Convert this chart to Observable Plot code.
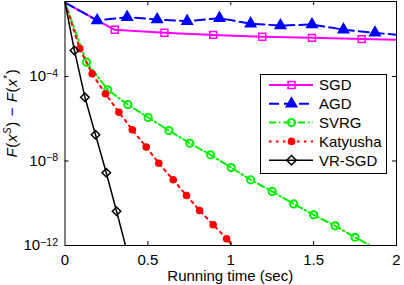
<!DOCTYPE html>
<html><head><meta charset="utf-8">
<script src="https://cdn.jsdelivr.net/npm/d3@7"></script>
<script src="https://cdn.jsdelivr.net/npm/@observablehq/plot@0.6"></script>
<style>body{margin:0;background:#fff;overflow:hidden}</style>
</head><body><div id="chart"></div>
<script>
// Running time (sec) and log10 of F(x^s) - F(x^*); first and last points are line-only
const sgdT = [0, 0.30, 0.60, 0.894, 1.19, 1.49, 1.79, 2.0];
const sgdE = [-0.5, -1.79, -1.93, -2.03, -2.12, -2.17, -2.23, -2.26];
const agdT = [0, 0.194, 0.375, 0.556, 0.737, 0.932, 1.12, 1.30, 1.49, 1.68, 1.87, 2.0];
const agdE = [-0.5, -1.35, -1.19, -1.30, -1.38, -1.24, -1.50, -1.59, -1.54, -1.78, -1.93, -2.03];
const svrgT = [0, 0.13, 0.258, 0.379, 0.502, 0.627, 0.753, 0.878, 1.003, 1.12, 1.25, 1.38, 1.50, 1.63, 1.75, 1.84];
const svrgE = [-0.5, -3.32, -4.63, -5.33, -5.94, -6.56, -7.16, -7.71, -8.31, -8.89, -9.44, -10.03, -10.55, -11.07, -11.61, -12.0];
const katT = [0, 0.089, 0.164, 0.244, 0.325, 0.406, 0.49, 0.566, 0.653, 0.733, 0.812, 0.894, 0.975, 1.01];
const katE = [-0.5, -2.68, -3.87, -4.82, -5.69, -6.52, -7.34, -8.11, -8.89, -9.63, -10.34, -11.02, -11.68, -12.0];
const vrT = [0, 0.057, 0.12, 0.184, 0.249, 0.311, 0.365];
const vrE = [-0.5, -2.77, -4.98, -6.76, -8.56, -10.38, -12.0];

const names = ["SGD", "AGD", "SVRG", "Katyusha", "VR-SGD"];
const xTicks = [0, 0.5, 1, 1.5, 2];
const yTickExp = [-4, -8, -12];

const rows = (T, E) => T.map((t, i) => ({t, v: Math.pow(10, E[i]), mk: i > 0 && i < T.length - 1}));
const sgd = rows(sgdT, sgdE), agd = rows(agdT, agdE), svrg = rows(svrgT, svrgE), kat = rows(katT, katE), vr = rows(vrT, vrE);

const styles = [
  {data: sgd, stroke: "#ff00ff", w: 2, dash: null, symbol: "square", r: 3.9, fill: "none", sw: 1.5},
  {data: agd, stroke: "#0000ff", w: 2, dash: "10,5", symbol: "triangle", r: 3.9, fill: "#0000ff", sw: 1.5},
  {data: svrg, stroke: "#00f000", w: 2, dash: "7,3,1.5,3", symbol: "circle", r: 3.6, fill: "none", sw: 2},
  {data: kat, stroke: "#ff0000", w: 2, dash: "2.5,4.5", symbol: "circle", r: 3.8, fill: "#ff0000", sw: 0},
  {data: vr, stroke: "#000000", w: 1.5, dash: null, symbol: "diamond2", r: 3.8, fill: "none", sw: 1.5}
];

const W = 404, H = 285, mL = 64.5, mR = 8, mT = 1, mB = 40;
const innerH = H - mT - mB, innerW = W - mL - mR;

const marks = [];
for (const s of styles) {
  marks.push(Plot.line(s.data, {x: "t", y: "v", stroke: s.stroke, strokeWidth: s.w, strokeDasharray: s.dash, clip: true}));
  marks.push(Plot.dot(s.data.filter(d => d.mk), {x: "t", y: "v", symbol: s.symbol, r: s.r, stroke: s.sw ? s.stroke : "none", strokeWidth: s.sw, fill: s.fill, clip: true}));
}
const inner = [0.5, 1, 1.5];
const innerY = [1e-4, 1e-8];
marks.push(
  Plot.tickX(inner, {x: d => d, insetTop: innerH - 4, stroke: "#000"}),
  Plot.tickX(inner, {x: d => d, insetBottom: innerH - 4, stroke: "#000"}),
  Plot.tickY(innerY, {y: d => d, insetRight: innerW - 4, stroke: "#000"}),
  Plot.tickY(innerY, {y: d => d, insetLeft: innerW - 4, stroke: "#000"}),
  Plot.frame({stroke: "#000", strokeWidth: 1}),
  Plot.axisX({ticks: xTicks, tickSize: 0, tickPadding: 9, tickFormat: d => String(d), fontSize: 15, label: null})
);

const plot = Plot.plot({
  width: W, height: H, marginLeft: mL, marginRight: mR, marginTop: mT, marginBottom: mB,
  x: {domain: [0, 2]},
  y: {type: "log", domain: [1e-12, Math.pow(10, -0.45)], axis: null},
  style: {fontFamily: "'Liberation Sans', Arial, sans-serif", fontSize: "15px", color: "#000", background: "#fff", overflow: "visible"},
  marks
});
document.getElementById("chart").appendChild(plot);

const svg = d3.select(plot);
const ys = plot.scale("y");
const xs = plot.scale("x");
const font = "'Liberation Sans', Arial, sans-serif";

// y tick labels 10^e
for (const e of yTickExp) {
  const t = svg.append("text").attr("x", mL - 6.5).attr("y", ys.apply(Math.pow(10, e)))
    .attr("text-anchor", "end").attr("dy", "0.35em").attr("font-family", font).attr("font-size", 15).attr("fill", "#000");
  t.append("tspan").text("10");
  t.append("tspan").attr("dy", "-0.45em").attr("font-size", 10.5).text("\u2212" + Math.abs(e));
}

// y axis label
const yl = svg.append("text").attr("transform", `translate(17,${113}) rotate(-90)`)
  .attr("text-anchor", "middle").attr("font-family", font).attr("font-size", 15).attr("fill", "#000")
  .attr("letter-spacing", 0.6);
yl.append("tspan").attr("font-style", "italic").text("F");
yl.append("tspan").text("(");
yl.append("tspan").attr("font-style", "italic").text("x");
yl.append("tspan").attr("dy", -6).attr("font-size", 10).attr("font-style", "italic").text("S");
yl.append("tspan").attr("dy", 6).text(") \u2212 ");
yl.append("tspan").attr("font-style", "italic").text("F");
yl.append("tspan").text("(");
yl.append("tspan").attr("font-style", "italic").text("x");
yl.append("tspan").attr("dy", -6).attr("font-size", 10).text("*");
yl.append("tspan").attr("dy", 6).text(")");

// x axis label
svg.append("text").attr("x", (xs.apply(0) + xs.apply(2)) / 2).attr("y", 281)
  .attr("text-anchor", "middle").attr("font-family", font).attr("font-size", 15).attr("fill", "#000")
  .text("Running time (sec)");

// legend
const lg = svg.append("g");
lg.append("rect").attr("x", 260.5).attr("y", 74.5).attr("width", 126).attr("height", 99)
  .attr("fill", "#fff").attr("stroke", "#000").attr("stroke-width", 1);
styles.forEach((s, i) => {
  const cy = 85 + i * 18.8;
  lg.append("line").attr("x1", 269).attr("x2", 313).attr("y1", cy).attr("y2", cy)
    .attr("stroke", s.stroke).attr("stroke-width", s.w).attr("stroke-dasharray", s.dash);
  const sym = {square: d3.symbolSquare, triangle: d3.symbolTriangle, circle: d3.symbolCircle, diamond2: d3.symbolSquare}[s.symbol];
  lg.append("path").attr("d", d3.symbol(sym, Math.PI * s.r * s.r)())
    .attr("transform", `translate(291.5,${cy})` + (s.symbol === "diamond2" ? " rotate(45)" : ""))
    .attr("fill", s.fill).attr("stroke", s.sw ? s.stroke : "none").attr("stroke-width", s.sw);
  lg.append("text").attr("x", 319).attr("y", cy).attr("dy", "0.36em").attr("text-anchor", "start")
    .attr("font-family", font).attr("font-size", 15).attr("fill", "#000").text(names[i]);
});
</script>
</body></html>
